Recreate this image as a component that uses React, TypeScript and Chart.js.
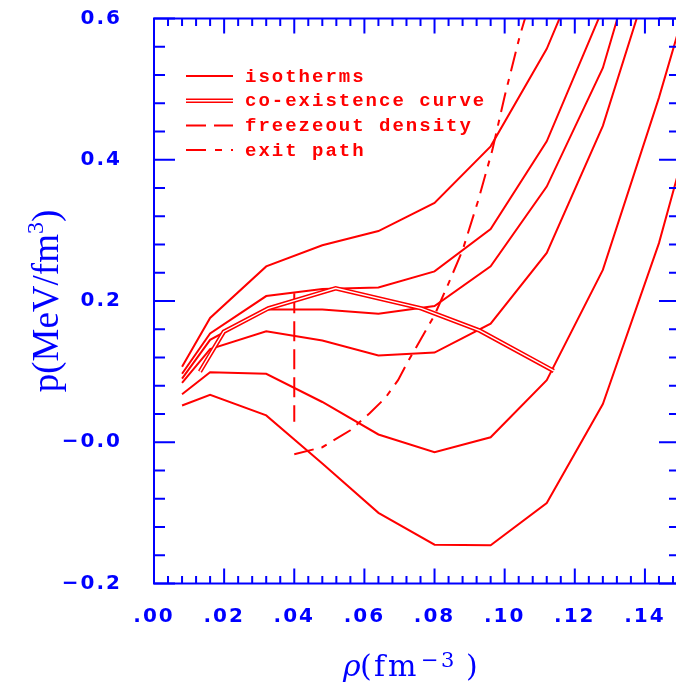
import React, { useEffect, useRef } from 'react';
import { Chart, registerables } from 'chart.js';

Chart.register(...registerables);

const RED = '#ff0000';
const BLUE = '#0000ff';

// densities (fm^-3) at which the isotherms are tabulated
const rho = [0.008, 0.016, 0.032, 0.048, 0.064, 0.08, 0.096, 0.112, 0.128, 0.144, 0.16];
// isotherm pressures (MeV/fm^3), highest temperature first
const isoT1 = [0.107, 0.176, 0.249, 0.279, 0.299, 0.339, 0.419, 0.557, 0.746];
const isoT2 = [0.097, 0.154, 0.207, 0.217, 0.219, 0.242, 0.302, 0.426, 0.614];
const isoT3 = [0.09, 0.145, 0.188, 0.188, 0.182, 0.193, 0.249, 0.362, 0.53, 0.8];
const isoT4 = [0.084, 0.132, 0.157, 0.144, 0.123, 0.127, 0.168, 0.268, 0.448, 0.7];
const isoT5 = [0.068, 0.099, 0.097, 0.057, 0.011, -0.014, 0.007, 0.088, 0.244, 0.488, 0.76];
const isoT6 = [0.052, 0.067, 0.038, -0.03, -0.1, -0.145, -0.146, -0.086, 0.054, 0.282, 0.57];
const isotherms = [isoT1, isoT2, isoT3, isoT4, isoT5, isoT6];

// co-existence curve
const coexRho = [0.0131, 0.0199, 0.0326, 0.0518, 0.0762, 0.0929, 0.114];
const coexP = [0.1, 0.1565, 0.1896, 0.218, 0.1896, 0.158, 0.101];

// freezeout density
const freezeRho = [0.04, 0.04];
const freezeP = [0.211, 0.029];

// exit path
const exitRho = [0.04, 0.048, 0.056, 0.0615, 0.066, 0.0696, 0.0725, 0.076, 0.08, 0.084, 0.088, 0.0925, 0.0965, 0.1, 0.1043, 0.107];
const exitP = [-0.017, -0.007, 0.017, 0.041, 0.063, 0.088, 0.115, 0.145, 0.18, 0.225, 0.272, 0.343, 0.414, 0.49, 0.575, 0.62];

// axes
const xTicks = [0, 0.02, 0.04, 0.06, 0.08, 0.1, 0.12, 0.14];
const xTickLabels = ['.00', '.02', '.04', '.06', '.08', '.10', '.12', '.14'];
const yTicks = [-0.2, 0, 0.2, 0.4, 0.6];
const yTickLabels = ['\u22120.2', '\u22120.0', '0.2', '0.4', '0.6'];
const legendLabels = ['isotherms', 'co-existence curve', 'freezeout density', 'exit path'];

const pts = (xs: number[], ys: number[]) => ys.map((y, i) => ({ x: xs[i], y }));

const spacingPlugin = {
  id: 'spacing',
  beforeDraw(chart: any) {
    chart.ctx.letterSpacing = '2px';
  },
  beforeDatasetsDraw(chart: any) {
    chart.ctx.letterSpacing = '0px';
  },
};

const framePlugin = {
  id: 'frame',
  afterDatasetsDraw(chart: any) {
    const { ctx, chartArea, scales } = chart;
    const { left, right, top, bottom } = chartArea;
    const x = scales.x;
    const y = scales.y;
    ctx.save();
    ctx.strokeStyle = BLUE;
    ctx.lineWidth = 2;
    ctx.setLineDash([]);
    ctx.strokeRect(left, top, right - left, bottom - top);
    ctx.beginPath();
    const nX = Math.round((x.max - x.min) / 0.004);
    for (let i = 0; i <= nX; i++) {
      const v = x.min + i * 0.004;
      const px = x.getPixelForValue(v);
      const major = i % 5 === 0;
      const len = major ? 15 : 7.5;
      ctx.moveTo(px, bottom);
      ctx.lineTo(px, bottom - len);
      ctx.moveTo(px, top);
      ctx.lineTo(px, top + len);
    }
    const nY = Math.round((y.max - y.min) / 0.04);
    for (let i = 0; i <= nY; i++) {
      const v = y.min + i * 0.04;
      const py = y.getPixelForValue(v);
      const major = i % 5 === 0;
      const len = major ? 21 : 11;
      ctx.moveTo(left, py);
      ctx.lineTo(left + len, py);
      ctx.moveTo(right, py);
      ctx.lineTo(right - len, py);
    }
    ctx.stroke();
    ctx.restore();
  },
};

const legendPlugin = {
  id: 'legendBox',
  afterDraw(chart: any) {
    const { ctx, chartArea } = chart;
    const x0 = chartArea.left + 32;
    const x1 = chartArea.left + 79;
    const tx = chartArea.left + 91;
    ctx.save();
    ctx.font = 'bold 19px "Liberation Mono"';
    ctx.letterSpacing = '2px';
    ctx.textBaseline = 'middle';
    ctx.textAlign = 'left';
    legendLabels.forEach((label, i) => {
      const yy = chartArea.top + 57.5 + i * 24.7;
      ctx.strokeStyle = RED;
      ctx.lineWidth = 2;
      ctx.setLineDash(i === 2 ? [20, 8] : i === 3 ? [20, 9, 7, 9] : []);
      if (i === 1) {
        ctx.lineWidth = 4.5;
        ctx.beginPath();
        ctx.moveTo(x0, yy);
        ctx.lineTo(x1, yy);
        ctx.stroke();
        ctx.strokeStyle = '#ffffff';
        ctx.lineWidth = 1.4;
      }
      ctx.beginPath();
      ctx.moveTo(x0, yy);
      ctx.lineTo(x1, yy);
      ctx.stroke();
      ctx.fillStyle = RED;
      ctx.fillText(label, tx, yy + 1);
    });
    ctx.restore();
  },
};

const titlePlugin = {
  id: 'titles',
  afterDraw(chart: any) {
    const { ctx, chartArea } = chart;
    ctx.save();
    ctx.fillStyle = BLUE;
    ctx.textBaseline = 'alphabetic';
    ctx.textAlign = 'left';
    ctx.letterSpacing = '0px';
    // x title: rho(fm^-3)
    const cx = (chartArea.left + chartArea.right) / 2;
    const base = 676;
    ctx.font = 'italic 30px "DejaVu Serif"';
    ctx.fillText('\u03c1', cx - 74, base);
    ctx.font = '30px "DejaVu Serif"';
    ctx.fillText('(', cx - 57, base);
    ctx.fillText('f', cx - 43, base);
    ctx.fillText('m', cx - 29, base);
    ctx.fillText(')', cx + 49, base);
    ctx.font = '21px "DejaVu Serif"';
    ctx.fillText('\u2212', cx + 4, base - 9);
    ctx.fillText('3', cx + 24, base - 9);

    // y title: p(MeV/fm^3)
    const cy = (chartArea.top + chartArea.bottom) / 2;
    ctx.translate(58, cy);
    ctx.rotate(-Math.PI / 2);
    const main = 'p(MeV/fm';
    ctx.font = '37px "Liberation Serif"';
    const w1 = ctx.measureText(main).width;
    ctx.font = '24px "Liberation Serif"';
    const w2 = ctx.measureText('3').width;
    ctx.font = '37px "Liberation Serif"';
    const w3 = ctx.measureText(')').width;
    let sx = -(w1 + w2 + w3) / 2;
    ctx.fillText(main, sx, 0);
    sx += w1;
    ctx.font = '24px "Liberation Serif"';
    ctx.fillText('3', sx, -15);
    sx += w2;
    ctx.font = '37px "Liberation Serif"';
    ctx.fillText(')', sx, 0);
    ctx.restore();
  },
};

const zeroPad = (s: any) => {
  s.paddingTop = 0;
  s.paddingBottom = 0;
  s.paddingLeft = 0;
  s.paddingRight = 0;
};

export default function App() {
  const ref = useRef<HTMLCanvasElement | null>(null);

  useEffect(() => {
    if (!ref.current) return;
    const line = { borderColor: RED, pointRadius: 0, tension: 0, fill: false };
    const datasets: any[] = isotherms.map((vals, k) => ({
      ...line,
      label: 'isotherm ' + (k + 1),
      data: pts(rho, vals),
      borderWidth: 2,
      order: 5,
    }));
    datasets.push({ ...line, label: 'co-existence curve', data: pts(coexRho, coexP), borderWidth: 4.5, order: 2 });
    datasets.push({ ...line, label: 'co-existence inner', data: pts(coexRho, coexP), borderColor: '#ffffff', borderWidth: 1.4, order: 1 });
    datasets.push({ ...line, label: 'freezeout density', data: pts(freezeRho, freezeP), borderWidth: 2, borderDash: [20, 8], order: 4 });
    datasets.push({ ...line, label: 'exit path', data: pts(exitRho, exitP), borderWidth: 2, borderDash: [20, 8, 6, 8], order: 4 });

    const tickFont = { family: 'DejaVu Sans', size: 20, weight: 'bold' as const };
    const chart = new Chart(ref.current, {
      type: 'line',
      data: { datasets },
      options: {
        animation: false,
        responsive: false,
        devicePixelRatio: 1,
        layout: { padding: { top: 18.5, right: 1, left: 0, bottom: 0 } },
        plugins: { legend: { display: false }, tooltip: { enabled: false } },
        scales: {
          x: {
            type: 'linear',
            min: 0,
            max: 0.15,
            afterBuildTicks: (s: any) => {
              s.ticks = xTicks.map((v) => ({ value: v }));
            },
            afterFit: (s: any) => {
              s.height = 100.5;
              zeroPad(s);
            },
            ticks: {
              callback: (_v: any, i: number) => xTickLabels[i],
              color: BLUE,
              font: tickFont,
              padding: 21,
              maxRotation: 0,
              autoSkip: false,
            },
            grid: { display: false, drawTicks: false },
            border: { display: false },
          },
          y: {
            type: 'linear',
            min: -0.2,
            max: 0.6,
            afterBuildTicks: (s: any) => {
              s.ticks = yTicks.map((v) => ({ value: v }));
            },
            afterFit: (s: any) => {
              s.width = 154;
              zeroPad(s);
            },
            ticks: {
              callback: (_v: any, i: number) => yTickLabels[i],
              color: BLUE,
              font: tickFont,
              padding: 32,
              autoSkip: false,
            },
            grid: { display: false, drawTicks: false },
            border: { display: false },
          },
        },
      } as any,
      plugins: [spacingPlugin, framePlugin, legendPlugin, titlePlugin],
    });
    return () => chart.destroy();
  }, []);

  return (
    <div style={{ position: 'fixed', left: 0, top: 0, width: 676, height: 684, overflow: 'hidden', background: '#ffffff' }}>
      <canvas ref={ref} width={681} height={684} style={{ display: 'block' }} />
    </div>
  );
}
